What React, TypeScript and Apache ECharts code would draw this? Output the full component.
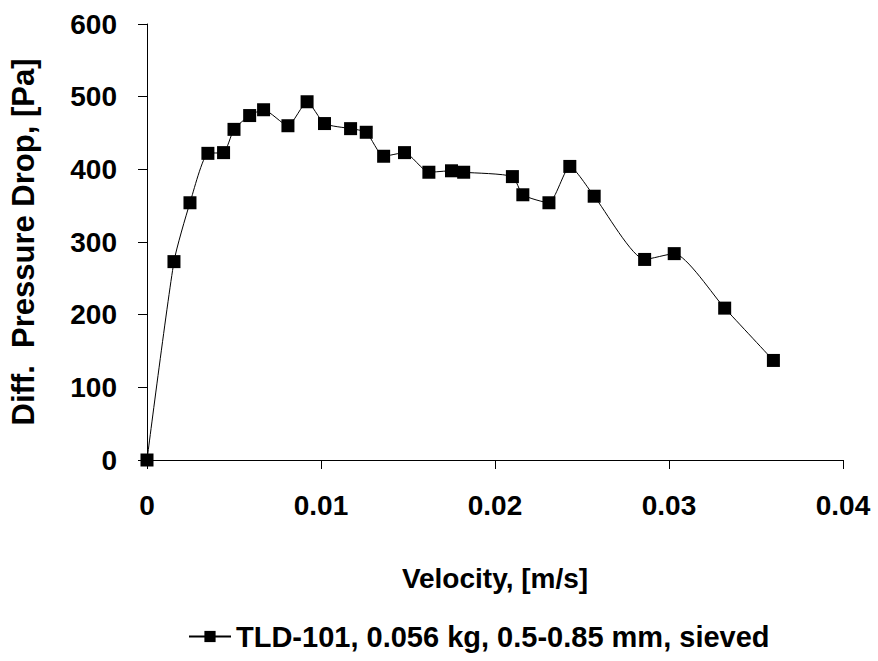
import React, { useEffect, useRef } from "react";
import * as echarts from "echarts";

const velocity = [0, 0.00155, 0.00247, 0.0035, 0.0044, 0.005, 0.0059, 0.0067, 0.0081, 0.0092, 0.0102, 0.0117, 0.0126, 0.0136, 0.0148, 0.0162, 0.0175, 0.0182, 0.021, 0.0216, 0.0231, 0.0243, 0.0257, 0.0286, 0.0303, 0.0332, 0.036];
const pressureDrop = [0, 273, 354, 422, 423, 455, 474, 482, 460, 493, 463, 456, 451, 418, 423, 396, 398, 396, 390, 365, 354, 404, 363, 276, 284, 209, 137];
const seriesName = "TLD-101, 0.056 kg, 0.5-0.85 mm, sieved";
const xTitle = "Velocity, [m/s]";
const yTitle = "Diff.  Pressure Drop, [Pa]";

const FONT = "'Liberation Sans', Arial, sans-serif";

export default function App() {
  const ref = useRef<HTMLDivElement>(null);
  useEffect(() => {
    if (!ref.current) return;
    const chart = echarts.init(ref.current, null, { renderer: "svg" });
    const data = velocity.map((v, i) => [v, pressureDrop[i]]);
    chart.setOption({
      animation: false,
      backgroundColor: "#fff",
      textStyle: { fontFamily: FONT },
      grid: { left: 146, right: 35, top: 24, bottom: 201, containLabel: false },
      xAxis: {
        type: "value",
        min: 0,
        max: 0.04,
        interval: 0.01,
        name: xTitle,
        nameLocation: "middle",
        nameGap: 104,
        nameTextStyle: { fontFamily: FONT, fontWeight: "bold", fontSize: 28, color: "#000" },
        axisLine: { show: true, lineStyle: { color: "#000", width: 1 } },
        axisTick: { show: true, inside: false, length: 9, lineStyle: { color: "#000" } },
        axisLabel: {
          margin: 31,
          fontFamily: FONT,
          fontWeight: "bold",
          fontSize: 28,
          color: "#000",
          formatter: (v: number) => (v === 0 ? "0" : String(Math.round(v * 100) / 100)),
        },
        splitLine: { show: false },
      },
      yAxis: {
        type: "value",
        min: 0,
        max: 600,
        interval: 100,
        name: yTitle,
        nameLocation: "middle",
        nameGap: 108,
        nameTextStyle: { fontFamily: FONT, fontWeight: "bold", fontSize: 31, color: "#000" },
        axisLine: { show: true, lineStyle: { color: "#000", width: 1 } },
        axisTick: { show: true, inside: false, length: 9, lineStyle: { color: "#000" } },
        axisLabel: { margin: 30, fontFamily: FONT, fontWeight: "bold", fontSize: 28, color: "#000" },
        splitLine: { show: false },
      },
      legend: {
        show: true,
        bottom: 5,
        left: 183,
        itemWidth: 42,
        itemHeight: 14,
        itemGap: 10,
        textStyle: { fontFamily: FONT, fontWeight: "bold", fontSize: 29, color: "#000" },
        data: [seriesName],
      },
      series: [
        {
          name: seriesName,
          type: "line",
          data,
          smooth: 0.2,
          symbol: "rect",
          symbolSize: 13,
          itemStyle: { color: "#000" },
          lineStyle: { color: "#000", width: 1 },
        },
      ],
    });
    return () => chart.dispose();
  }, []);
  return (
    <div
      ref={ref}
      style={{ position: "absolute", left: 0, top: 0, width: 878, height: 661 }}
    />
  );
}
